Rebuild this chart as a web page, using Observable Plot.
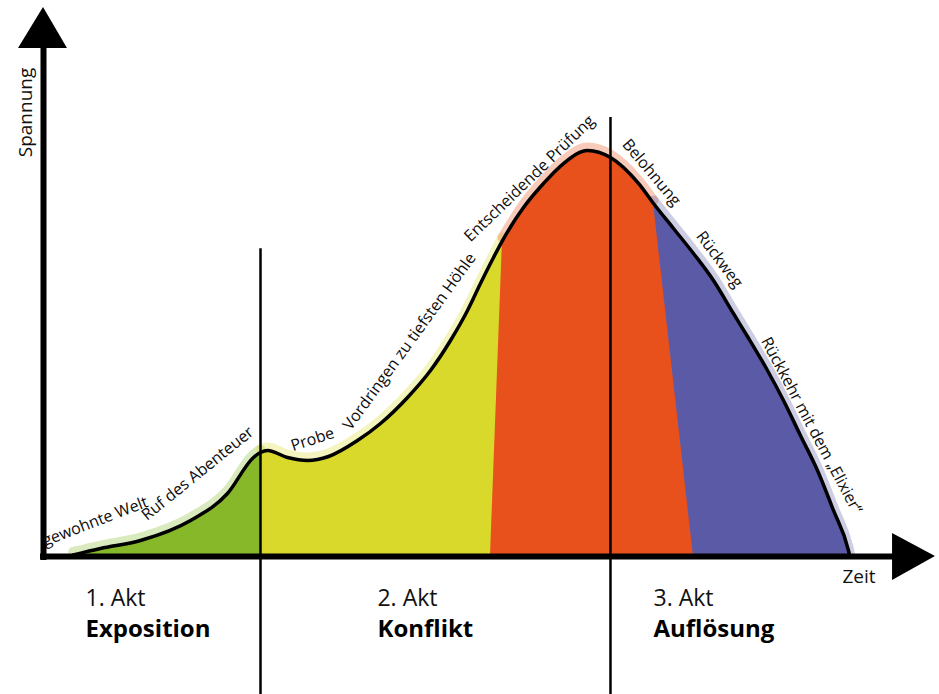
<!DOCTYPE html>
<html>
<head>
<meta charset="utf-8">
<script src="https://cdn.jsdelivr.net/npm/d3@7"></script>
<script src="https://cdn.jsdelivr.net/npm/@observablehq/plot@0.6"></script>
<style>
  html, body { margin: 0; padding: 0; background: #ffffff; }
  #chart svg { display: block; overflow: visible; }
</style>
</head>
<body>
<div id="chart"></div>
<script>
// ---- Data (time 0..100, tension 0..100) ----
const curveX = [3.5, 6.73, 11.45, 17.36, 21.72, 24.79, 25.62, 26.45, 28.81, 31.17, 33.65, 37.07, 39.79, 42.98, 45.69, 48.05, 50.06, 51.59, 53.13, 54.19, 56.67, 59.03, 61.39, 64.23, 66.94, 70.25, 72.02, 74.38, 76.74, 79.1, 81.46, 83.12, 85.48, 87.37, 89.37, 91.38, 93.27, 95.04, 95.2];
const curveY = [0.3, 1.57, 3.15, 7.09, 12.4, 19.49, 20.47, 20.87, 19.49, 18.9, 19.69, 22.83, 26.18, 31.3, 36.61, 42.52, 48.43, 53.74, 58.86, 62.2, 68.7, 73.43, 77.36, 79.92, 78.54, 73.43, 69.49, 64.57, 59.65, 54.33, 47.83, 43.31, 36.61, 30.71, 23.82, 16.93, 9.06, 1.18, 0];

const segmentNames  = ["Exposition", "Konflikt A", "Konflikt B", "Auflösung"];
const segmentStart  = [3.5, 25.62, 54.19, 72.02];
const segmentEnd    = [25.62, 54.19, 72.02, 95.2];
const segmentColors = ["#86b82a", "#d9d92c", "#e8501c", "#5b5aa6"];

// slanted colour borders (x and y of bottom / top end)
const wedgeLeftX  = [52.77, 54.19];
const wedgeLeftY  = [0, 62.2];
const wedgeRightX = [72.02, 76.74];
const wedgeRightY = [69.49, 0];

const actDividers   = [25.62, 66.94];
const dividerTop    = [60.6, 86.4];
const dividerBottom = -27.2;

const stageLabels = ["gewohnte Welt", "Ruf des Abenteuer", "Probe", "Vordringen zu tiefsten Höhle", "Entscheidende Prüfung", "Belohnung", "Rückweg", "Rückkehr mit dem „Elixier“"];
const stageX      = [6.1, 18.2, 31.76, 43.21, 57.38, 71.78, 79.81, 90.67];
const stageY      = [6.9, 16.34, 23.03, 42.32, 74.41, 75.59, 58.46, 25.79];
const stageAngle  = [-21, -39, -18, -54, -44, 50, 53, 62];

const actNumbers = ["1. Akt", "2. Akt", "3. Akt"];
const actNames   = ["Exposition", "Konflikt", "Auflösung"];
const actX       = [4.96, 39.43, 72.02];

const xAxisLabel = "Zeit";
const yAxisLabel = "Spannung";

// ---- Build tables ----
const points = curveX.map((x, i) => ({x, y: curveY[i]}));
const segData = segmentNames.flatMap((name, i) =>
  points.filter(p => p.x >= segmentStart[i] - 1e-9 && p.x <= segmentEnd[i] + 1e-9)
        .map(p => ({...p, seg: name})));
const wedgeL = wedgeLeftX.map((x, i) => ({x, y: wedgeLeftY[i]}));
const wedgeR = wedgeRightX.map((x, i) => ({x, y: wedgeRightY[i]}));
const dividers = actDividers.map((x, i) => ({x, y1: dividerBottom, y2: dividerTop[i]}));
const stages = stageLabels.map((t, i) => ({t, x: stageX[i], y: stageY[i], a: stageAngle[i]}));
const acts = actNumbers.map((n, i) => ({n, name: actNames[i], x: actX[i]}));
const upArrow = [{y: 100, xa: -2.95, xb: 2.83}, {y: 108.07, xa: 0, xb: 0}];
const rightArrow = [{x: 100.24, ya: -4.72, yb: 4.53}, {x: 105.31, ya: 0, yb: 0}];

const sans = "'Open Sans', 'Noto Sans', sans-serif";

const chart = Plot.plot({
  width: 939,
  height: 694,
  marginLeft: 43,
  marginRight: 49,
  marginTop: 48,
  marginBottom: 138,
  clip: false,
  style: {background: "#ffffff", overflow: "visible"},
  x: {domain: [0, 100], axis: null},
  y: {domain: [0, 100], axis: null},
  marks: [
    // soft painted halo
    ...segmentNames.map((name, i) =>
      Plot.line(segData.filter(d => d.seg === name), {x: "x", y: "y", stroke: segmentColors[i], strokeWidth: 10, strokeOpacity: 0.3, dy: -3, curve: "monotone-x"})),
    // coloured areas
    ...segmentNames.map((name, i) =>
      Plot.areaY(segData.filter(d => d.seg === name), {x: "x", y1: 0, y2: "y", fill: segmentColors[i], curve: "monotone-x"})),
    Plot.areaY(wedgeL, {x: "x", y1: 0, y2: "y", fill: segmentColors[2]}),
    Plot.areaY(wedgeR, {x: "x", y1: 0, y2: "y", fill: segmentColors[2]}),
    // tension curve
    Plot.line(points, {x: "x", y: "y", stroke: "#000", strokeWidth: 3.5, curve: "monotone-x"}),
    // act dividers
    Plot.ruleX(dividers, {x: "x", y1: "y1", y2: "y2", stroke: "#000", strokeWidth: 2.5}),
    // axes
    Plot.ruleX([0], {y1: -0.8, y2: 100.5, stroke: "#000", strokeWidth: 6}),
    Plot.ruleY([0], {x1: -0.35, x2: 100.5, stroke: "#000", strokeWidth: 6}),
    Plot.areaX(upArrow, {y: "y", x1: "xa", x2: "xb", fill: "#000"}),
    Plot.areaY(rightArrow, {x: "x", y1: "ya", y2: "yb", fill: "#000"}),
    // stage labels along the curve
    Plot.text(stages, {x: "x", y: "y", text: "t", rotate: "a", fontFamily: sans, fontSize: 16, fill: "#0d0d0d", ariaLabel: "stage-labels"}),
    // act labels
    Plot.text(acts, {x: "x", y: -9.65, text: "n", textAnchor: "start", lineAnchor: "bottom", fontFamily: sans, fontSize: 23, fill: "#111"}),
    Plot.text(acts, {x: "x", y: -15.94, text: "name", textAnchor: "start", lineAnchor: "bottom", fontFamily: sans, fontSize: 24, fontWeight: "bold", fill: "#000"}),
    // axis titles
    Plot.text([xAxisLabel], {x: 98.23, y: -5.31, text: d => d, textAnchor: "end", lineAnchor: "bottom", fontFamily: sans, fontSize: 19, fill: "#111"}),
    Plot.text([yAxisLabel], {x: -2.13, y: 87.4, text: d => d, rotate: -90, fontFamily: sans, fontSize: 19, fill: "#111"})
  ]
});
// condensed look for the stage labels (horizontal squeeze along the text direction)
chart.querySelectorAll('g[aria-label="stage-labels"] text').forEach(el => {
  const t = el.getAttribute("transform") || "";
  el.setAttribute("transform", t + " scale(0.75,1)");
});
document.getElementById("chart").appendChild(chart);
</script>
</body>
</html>
